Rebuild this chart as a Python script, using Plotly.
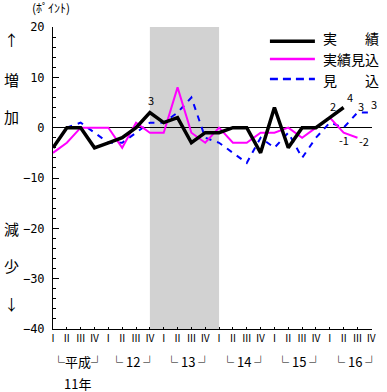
import plotly.graph_objects as go

quarters = ["Ⅰ", "Ⅱ", "Ⅲ", "Ⅳ"] * 6
year_labels = ["└平成┘", "└ 12 ┘", "└ 13 ┘", "└ 14 ┘", "└ 15 ┘", "└ 16 ┘"]
series_names = ["実　　績", "実績見込", "見　　込"]

jisseki = [-4, 0, 0, -4, -3, -2, 0, 3, 1, 2, -3, -1, -1, 0, 0, -5, 4, -4, 0, 0, 2, 4]
jisseki_mikomi = [-5, -3, 0, 0, 0, -4, 1, -1, -1, 8, -1, -3, 0, -3, -3, -1, -1, 0, -2, 0, 2, -1, -2]
mikomi = [-4, 0, 1, -1, -3, -3, -1, 1, 1, 3, 6, -2, -3, -5, -7, -2, -4, -1, -6, -2, 1, 0, 3, 3]

recession = [7, 12]

FONT = "Noto Sans CJK JP"
x_all = list(range(len(quarters)))

fig = go.Figure()
fig.add_shape(type="rect", xref="x", yref="paper", x0=recession[0], x1=recession[1],
              y0=0, y1=1, fillcolor="#d2d2d2", line_width=0, layer="below")

fig.add_trace(go.Scatter(x=x_all[:len(mikomi)], y=mikomi, mode="lines",
                         line=dict(color="#0000ff", width=2, dash="6px,6px"), name=series_names[2]))
fig.add_trace(go.Scatter(x=x_all[:len(jisseki_mikomi)], y=jisseki_mikomi, mode="lines",
                         line=dict(color="#ff00ff", width=2), name=series_names[1]))
fig.add_trace(go.Scatter(x=x_all[:len(jisseki)], y=jisseki, mode="lines",
                         line=dict(color="#000000", width=3.5), name=series_names[0]))

ann = []
def lab(series, i, xs, ys):
    v = series[i]
    ann.append(dict(x=i, y=v, xref="x", yref="y", text=str(v), showarrow=False,
                    xanchor="center", yanchor="middle", xshift=xs, yshift=ys,
                    font=dict(family=FONT, size=11, color="black")))

lab(jisseki, 7, 1, 13)
lab(jisseki, 20, 3, 12)
lab(jisseki, 21, 6, 11)
lab(mikomi, 22, 4, 7)
lab(mikomi, 23, 3, 9)
lab(jisseki_mikomi, 21, 0, -7)
lab(jisseki_mikomi, 22, 7, -3)

# year brackets
for k, t in enumerate(year_labels):
    ann.append(dict(x=4 * k + 1.5, y=-0.109, xref="x", yref="paper", text=t, showarrow=False,
                    xanchor="center", yanchor="middle", xshift=4,
                    font=dict(family=FONT, size=13, color="black")))
ann.append(dict(x=1.5, y=-0.179, xref="x", yref="paper", text="11年", showarrow=False,
                xanchor="center", yanchor="middle", xshift=4,
                font=dict(family=FONT, size=13, color="black")))

# left side texts
left = [("↑", 0.957), ("増", 0.825), ("加", 0.705), ("減", 0.334), ("少", 0.209), ("↓", 0.086)]
for t, yy in left:
    ann.append(dict(x=-0.13, y=yy, xref="paper", yref="paper", text=t, showarrow=False,
                    xanchor="center", yanchor="middle",
                    font=dict(family=FONT, size=15, color="black")))
ann.append(dict(x=-0.006, y=1.063, xref="paper", yref="paper", text="(ﾎﾟｲﾝﾄ)", showarrow=False,
                xanchor="center", yanchor="middle",
                font=dict(family=FONT, size=12, color="black")))

# legend
leg = [(series_names[0], 0.953, 0.964, "#000000", 3.5, "solid"),
       (series_names[1], 0.894, 0.894, "#ff00ff", 2.5, "solid"),
       (series_names[2], 0.828, 0.826, "#0000ff", 2.5, "8px,5px")]
for t, yy, ty, c, w, d in leg:
    fig.add_shape(type="line", xref="paper", yref="paper", x0=0.680, x1=0.821, y0=yy, y1=yy,
                  line=dict(color=c, width=w, dash=d))
    ann.append(dict(x=0.843, y=ty, xref="paper", yref="paper", text=t, showarrow=False,
                    xanchor="left", yanchor="middle", borderpad=0,
                    font=dict(family=FONT, size=14, color="black")))

fig.update_layout(
    width=387, height=392, margin=dict(l=53, r=15, t=27, b=63),
    paper_bgcolor="white", plot_bgcolor="white", showlegend=False,
    annotations=ann,
    xaxis=dict(range=[0, 23.05], tickvals=x_all, ticktext=quarters, ticks="inside", ticklen=2,
               tickcolor="black", showline=True, linecolor="black", linewidth=1, showgrid=False,
               zeroline=False, tickfont=dict(family=FONT, size=10, color="black")),
    yaxis=dict(range=[-40, 20], dtick=10, ticks="inside", ticklen=6, tickcolor="black",
               showline=True, linecolor="black", linewidth=1, showgrid=False,
               zeroline=True, zerolinecolor="black", zerolinewidth=1,
               ticklabelstandoff=5,
               minor=dict(dtick=2, ticks="inside", ticklen=3, tickcolor="black", showgrid=False),
               tickfont=dict(family="DejaVu Sans Mono", size=12, color="black")),
)

fig.write_html("out.html", config={"displayModeBar": False},
               post_script="document.body.style.margin='0';document.body.style.overflow='hidden';")
